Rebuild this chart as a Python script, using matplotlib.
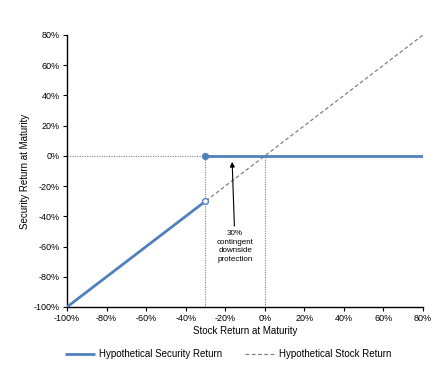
import matplotlib
matplotlib.use("Agg")
import matplotlib.pyplot as plt
from matplotlib.ticker import FuncFormatter

# Data
stock_x = [-100, 80]
stock_y = [-100, 80]
sec_low_x = [-100, -30]
sec_low_y = [-100, -30]
sec_high_x = [-30, 80]
sec_high_y = [0, 0]
barrier = -30
xticks = list(range(-100, 81, 20))
yticks = list(range(-100, 81, 20))

plt.rcParams['font.family'] = ['Liberation Sans', 'DejaVu Sans']

fig = plt.figure(figsize=(4.41, 3.68), dpi=100)
ax = fig.add_axes([67/441, 1-307/368, (423-67)/441, (307-35)/368])

blue = '#4f81bd'
gray = '#808080'

# reference dotted lines
ax.plot([-100, barrier], [0, 0], color=gray, lw=0.8, ls=(0, (1, 1.2)), zorder=1)
ax.plot([barrier, barrier], [-100, 0], color=gray, lw=0.8, ls=(0, (1, 1.2)), zorder=1)
ax.plot([0, 0], [-100, 0], color=gray, lw=0.8, ls=(0, (1, 1.2)), zorder=1)

# stock line
ax.plot(stock_x, stock_y, color=gray, lw=0.9, ls=(0, (3, 2)), zorder=2,
        label='Hypothetical Stock Return')

# security
ax.plot(sec_low_x, sec_low_y, color=blue, lw=2.0, zorder=3,
        label='Hypothetical Security Return', solid_capstyle='butt')
ax.plot(sec_high_x, sec_high_y, color=blue, lw=2.0, zorder=3, solid_capstyle='butt')
ax.plot([sec_low_x[-1]], [sec_low_y[-1]], marker='o', ms=4.2, mfc='white', mec=blue,
        mew=1, zorder=4)
ax.plot([sec_high_x[0]], [sec_high_y[0]], marker='o', ms=4.2, mfc=blue, mec=blue, zorder=4)

ax.annotate('30%\ncontingent\ndownside\nprotection', xy=(-16.5, -4), xytext=(-15, -60),
            ha='center', va='center', fontsize=5.8, linespacing=1.3,
            arrowprops=dict(arrowstyle='-|>', color='black', lw=0.8,
                            shrinkA=1, shrinkB=0, mutation_scale=7))

ax.set_xlim(-100, 80)
ax.set_ylim(-100, 80)
ax.set_xticks(xticks)
ax.set_yticks(yticks)
fmt = FuncFormatter(lambda v, p: f'{int(v)}%')
ax.xaxis.set_major_formatter(fmt)
ax.yaxis.set_major_formatter(fmt)
ax.tick_params(direction='out', length=3, width=0.8, labelsize=6.5, pad=2)
for s in ['top', 'right']:
    ax.spines[s].set_visible(False)
for s in ['left', 'bottom']:
    ax.spines[s].set_linewidth(1)
ax.set_xlabel('Stock Return at Maturity', fontsize=7, labelpad=2)
ax.set_ylabel('Security Return at Maturity', fontsize=7, labelpad=3)

handles, labels = ax.get_legend_handles_labels()
order = [1, 0]
fig.legend([handles[i] for i in order], [labels[i] for i in order],
           loc='center', bbox_to_anchor=(228/441, 1-354/368), ncol=2, frameon=False,
           fontsize=7, handlelength=3.1, handletextpad=0.35, columnspacing=2.4,
           borderpad=0, borderaxespad=0)

fig.savefig('out.png', dpi=100)
